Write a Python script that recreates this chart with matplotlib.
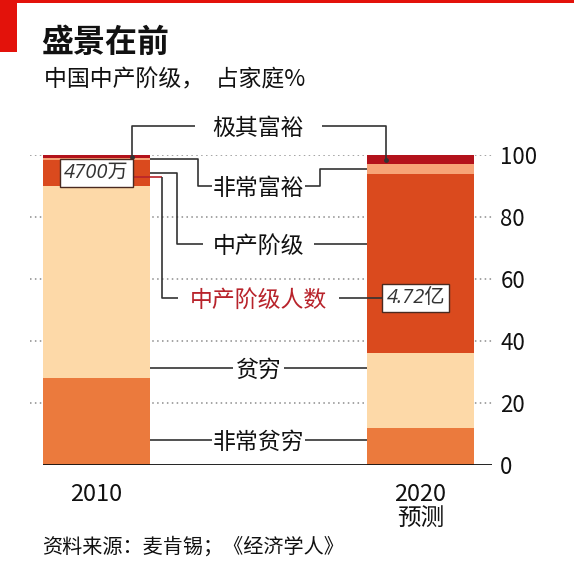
import matplotlib.pyplot as plt
from matplotlib.patches import Rectangle
import numpy as np

plt.rcParams['font.family'] = ['Noto Sans CJK SC', 'DejaVu Sans']

# 数据
years = ['2010', '2020\n预测']
segments = ['非常贫穷', '贫穷', '中产阶级', '非常富裕', '极其富裕']
share_2010 = [28, 62, 8.5, 0.5, 1]
share_2020 = [12, 24, 58, 3, 3]
middle_count = ['4700万', '4.72亿']
count_label = '中产阶级人数'
yticks = [0, 20, 40, 60, 80, 100]

colors = ['#EB7A3D', '#FDD9A8', '#DA4A1E', '#F7A477', '#B3121B']
red = '#E3120B'
line_c = '#333333'

W, H = 574, 562
fig = plt.figure(figsize=(W / 100, H / 100), dpi=100)
ax = fig.add_axes([30 / W, (H - 465) / H, 462 / W, 310 / H])

x = np.arange(len(years))
bw = 0.333
data = np.array([share_2010, share_2020])
bottoms = np.zeros(len(years))
centers = []
for k in range(len(segments)):
    ax.bar(x, data[:, k], bottom=bottoms, width=bw, color=colors[k], linewidth=0, zorder=2)
    centers.append(bottoms + data[:, k] / 2)
    bottoms = bottoms + data[:, k]
centers = np.array(centers)  # [segment, year]

ax.set_xlim(-0.2052, 1.2207)
ax.set_ylim(0, 100)
for s in ax.spines.values():
    s.set_visible(False)

# 网格与刻度
for t in yticks[1:]:
    ax.axhline(t, color='#8c8c8c', lw=1.1, ls=(0, (1, 2.2)), zorder=1)
ax.hlines(0, x[0] - bw / 2, 1.2207, color='#111111', lw=1.3, zorder=3)
ax.yaxis.tick_right()
ax.set_yticks(yticks)
ax.set_yticklabels([str(t) for t in yticks], fontsize=16, color='#111111')
ax.tick_params(axis='y', length=0, pad=6)
ax.set_xticks(x)
ax.set_xticklabels(years, fontsize=17, color='#111111', linespacing=1.05)
ax.tick_params(axis='x', length=0, pad=13)

# 中间标签
lab_x = 0.5
lab_y = {'极其富裕': 109.5, '非常富裕': 90, '中产阶级': 71.3,
         count_label: 53.9, '贫穷': 31.3, '非常贫穷': 8.1}
gaps_px = {'极其富裕': 18, '非常富裕': 1, '中产阶级': 10,
           count_label: 12, '贫穷': 3, '非常贫穷': 1}
texts = {}
for name, yy in lab_y.items():
    col = '#B8232B' if name == count_label else '#111111'
    texts[name] = ax.text(lab_x, yy, name, ha='center', va='center_baseline',
                          fontsize=16.5, color=col, zorder=5, clip_on=False)

# 框内人数
box_kw = dict(boxstyle='square,pad=0.2', fc='white', ec='#4a2a20', lw=1.0)
ax.text(x[0], centers[2, 0], middle_count[0], ha='center', va='center',
        fontsize=14.5, style='italic', color='#333333', bbox=box_kw, zorder=6,
        family=['Open Sans', 'Noto Sans CJK SC'])
box2 = ax.text(x[1] - 0.015, lab_y[count_label], middle_count[1], ha='center', va='center',
               fontsize=14.5, style='italic', color='#333333', bbox=box_kw, zorder=6,
               family=['Open Sans', 'Noto Sans CJK SC'])

fig.canvas.draw()
inv = ax.transData.inverted()
px_unit = 324.0  # 每个x单位的像素


def text_span(name):
    bb = texts[name].get_window_extent()
    x0 = inv.transform((bb.x0, bb.y0))[0]
    x1 = inv.transform((bb.x1, bb.y0))[0]
    g = gaps_px[name] / px_unit
    return x0 - g, x1 + g


lk = dict(color=line_c, lw=1.2, zorder=4, clip_on=False, solid_capstyle='butt')
L0 = x[0] + bw / 2   # 2010 右边缘
R0 = x[1] - bw / 2   # 2020 左边缘

# 极其富裕
a, b = text_span('极其富裕')
ly = lab_y['极其富裕']
ax.plot([0.11, 0.11, a], [centers[4, 0], ly, ly], **lk)
ax.plot([b, 0.894, 0.894], [ly, ly, centers[4, 1]], **lk)
ax.plot([0.11, 0.894], [centers[4, 0], centers[4, 1]], 'o', ms=2.5, color=line_c, zorder=4)

# 非常富裕
a, b = text_span('非常富裕')
ly = lab_y['非常富裕']
ax.plot([L0, 0.313, 0.313, a], [centers[3, 0], centers[3, 0], ly, ly], **lk)
ax.plot([b, 0.69, 0.69, R0], [ly, ly, centers[3, 1], centers[3, 1]], **lk)

# 中产阶级
a, b = text_span('中产阶级')
ly = lab_y['中产阶级']
ax.plot([L0, 0.248, 0.248, a], [centers[2, 0], centers[2, 0], ly, ly], **lk)
ax.plot([b, R0], [ly, ly], **lk)

# 中产阶级人数
a, b = text_span(count_label)
ly = lab_y[count_label]
y_red = centers[2, 0] - 1.5
ax.plot([x[0], 0.202], [y_red, y_red],
        color='#B8232B', lw=1.2, zorder=3, solid_capstyle='butt')
ax.plot([0.202, 0.202, a], [y_red, ly, ly], **lk)
bb2 = box2.get_bbox_patch().get_window_extent()
bx0 = inv.transform((bb2.x0, bb2.y0))[0]
ax.plot([b, bx0], [ly, ly], **lk)

# 贫穷 / 非常贫穷
for name in ['贫穷', '非常贫穷']:
    a, b = text_span(name)
    ly = lab_y[name]
    ax.plot([L0, a], [ly, ly], **lk)
    ax.plot([b, R0], [ly, ly], **lk)

# 标题区
fig.patches.append(Rectangle((0, 1 - 3 / H), 1, 3 / H, transform=fig.transFigure,
                             fc=red, ec='none'))
fig.patches.append(Rectangle((0, 1 - 52 / H), 17 / W, 52 / H, transform=fig.transFigure,
                             fc=red, ec='none'))
fig.text(41 / W, 1 - 43 / H, '盛景在前', fontsize=23, weight='bold',
         va='center', color='#111111')
fig.text(44 / W, 1 - 80 / H, '中国中产阶级，\u2002占家庭%', fontsize=16.5,
         va='center', color='#111111')
fig.text(42 / W, 1 - 547 / H, '资料来源：麦肯锡；《经济学人》', fontsize=14.5,
         va='center', color='#111111')

fig.savefig('out.png', dpi=100)
